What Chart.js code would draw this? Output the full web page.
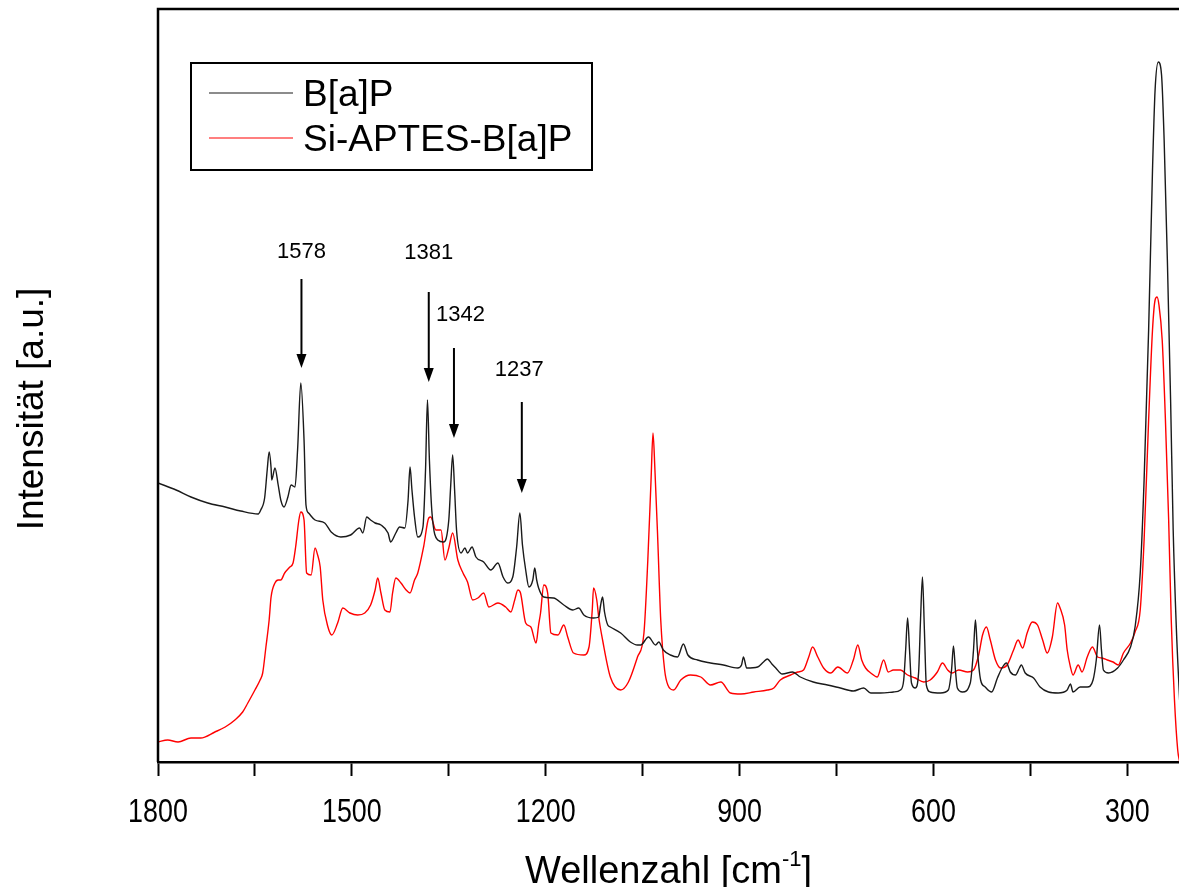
<!DOCTYPE html>
<html>
<head>
<meta charset="utf-8">
<title>Raman B[a]P</title>
<script src="https://cdn.jsdelivr.net/npm/chart.js@4.4.1/dist/chart.umd.min.js"></script>
<style>
  html, body { margin: 0; padding: 0; background: #fff; overflow: hidden; }
  canvas { display: block; }
</style>
</head>
<body>
<canvas id="spectrum" width="1179" height="887"></canvas>
<script>
// ---------------------------
// Data
// ---------------------------
const bapWave = [
  1800, 1772, 1749, 1723, 1696, 1672, 1645, 1641, 1635, 1631,
  1628, 1625, 1624, 1619, 1614, 1610, 1605, 1599, 1594, 1588,
  1584, 1579, 1574, 1571, 1567, 1557, 1542, 1532, 1517, 1502,
  1488, 1483, 1477, 1471, 1464, 1455, 1444, 1440, 1432, 1426,
  1418, 1413, 1410, 1407, 1403, 1398, 1390, 1386, 1383, 1380,
  1376, 1367, 1358, 1350, 1347, 1344, 1341, 1338, 1331, 1325,
  1321, 1314, 1308, 1296, 1285, 1274, 1266, 1259, 1251, 1245,
  1240, 1236, 1231, 1226, 1220, 1217, 1214, 1211, 1203, 1188,
  1172, 1158, 1149, 1141, 1126, 1118, 1115, 1112, 1109, 1104,
  1100, 1084, 1069, 1058, 1053, 1041, 1030, 1025, 1018, 1007,
  996, 987, 980, 965, 945, 925, 903, 897, 894, 889,
  872, 863, 857, 850, 844, 834, 818, 806, 786, 764,
  744, 724, 708, 697, 682, 662, 651, 646, 643, 640,
  637, 634, 628, 623, 620, 617, 614, 611, 605, 589,
  577, 572, 569, 566, 563, 555, 543, 538, 535, 532,
  527, 520, 510, 501, 493, 487, 481, 473, 467, 464,
  458, 445, 435, 422, 407, 393, 388, 384, 373, 362,
  353, 348, 343, 340, 337, 329, 315, 306, 295, 288,
  280, 274, 267, 261, 257, 252, 247, 243, 238, 233,
  229, 224, 219
];
const bapIntensity = [
  279, 272, 265, 259, 255, 251, 248, 252, 264, 292,
  310, 294, 282, 294, 277, 262, 255, 265, 277, 275,
  312, 379, 322, 257, 249, 242, 239, 230, 225, 227,
  234, 229, 245, 242, 239, 237, 229, 220, 229, 235,
  234, 262, 295, 272, 245, 225, 235, 292, 362, 302,
  249, 222, 220, 242, 277, 307, 272, 232, 209, 214,
  209, 215, 205, 200, 192, 199, 185, 179, 185, 215,
  249, 217, 192, 175, 182, 194, 182, 174, 165, 164,
  157, 152, 154, 147, 144, 145, 157, 165, 150, 137,
  135, 129, 120, 117, 117, 125, 117, 120, 112, 107,
  105, 118, 107, 102, 99, 97, 94, 97, 105, 94,
  95, 100, 103, 98, 94, 88, 90, 85, 80, 77,
  74, 71, 74, 69, 69, 70, 72, 82, 112, 144,
  112, 79, 74, 89, 142, 185, 132, 77, 70, 69,
  72, 92, 116, 92, 74, 70, 79, 112, 142, 112,
  82, 75, 70, 84, 95, 99, 90, 87, 94, 97,
  89, 84, 75, 70, 69, 72, 78, 70, 75, 75,
  82, 102, 137, 112, 92, 89, 94, 102, 115, 135,
  189, 282, 432, 592, 672, 700, 687, 622, 502, 362,
  232, 132, 62
];

const siWave = [
  1800, 1785, 1769, 1749, 1734, 1712, 1696, 1681, 1669, 1661,
  1650, 1642, 1638, 1633, 1628, 1625, 1619, 1614, 1610, 1604,
  1596, 1591, 1587, 1582, 1579, 1574, 1570, 1563, 1557, 1553,
  1549, 1545, 1537, 1531, 1522, 1514, 1503, 1491, 1480, 1471,
  1464, 1460, 1455, 1449, 1441, 1437, 1432, 1424, 1416, 1410,
  1403, 1398, 1389, 1381, 1378, 1370, 1362, 1356, 1350, 1344,
  1336, 1328, 1321, 1313, 1305, 1296, 1288, 1274, 1262, 1254,
  1248, 1243, 1239, 1231, 1223, 1215, 1211, 1208, 1203, 1197,
  1192, 1181, 1172, 1166, 1157, 1141, 1133, 1128, 1126, 1121,
  1118, 1112, 1100, 1084, 1072, 1058, 1048, 1042, 1037, 1034,
  1031, 1027, 1022, 1016, 1011, 1002, 991, 976, 960, 945,
  929, 914, 898, 878, 857, 847, 837, 821, 810, 801,
  793, 787, 779, 770, 759, 748, 733, 724, 717, 711,
  705, 697, 687, 677, 670, 662, 651, 640, 628, 615,
  605, 594, 586, 578, 571, 561, 547, 538, 530, 524,
  518, 512, 504, 496, 486, 476, 469, 462, 455, 447,
  439, 431, 424, 416, 408, 404, 397, 393, 388, 384,
  376, 370, 362, 354, 346, 339, 331, 322, 314, 306,
  295, 288, 280, 274, 267, 261, 257, 254, 251, 246,
  241, 236, 232, 227, 222, 219
];
const siIntensity = [
  20, 22, 20, 24, 24, 30, 35, 42, 50, 59,
  72, 82, 89, 115, 142, 165, 179, 182, 182, 189,
  195, 199, 215, 242, 250, 242, 189, 187, 214, 207,
  195, 162, 135, 127, 139, 154, 149, 147, 149, 157,
  172, 184, 169, 152, 150, 169, 184, 179, 172, 169,
  182, 189, 215, 244, 245, 232, 232, 202, 214, 229,
  202, 189, 180, 162, 164, 169, 155, 159, 155, 150,
  162, 172, 169, 139, 135, 119, 137, 149, 177, 169,
  129, 127, 137, 125, 109, 107, 115, 152, 174, 162,
  145, 122, 85, 72, 80, 105, 129, 202, 282, 329,
  292, 229, 142, 92, 77, 72, 82, 87, 85, 77,
  80, 69, 68, 70, 72, 74, 82, 87, 90, 92,
  105, 115, 105, 94, 89, 95, 89, 102, 117, 102,
  94, 89, 85, 102, 90, 92, 92, 87, 84, 80,
  82, 90, 99, 92, 89, 92, 90, 92, 107, 127,
  135, 122, 102, 94, 97, 112, 122, 114, 129, 140,
  137, 122, 109, 125, 159, 154, 137, 112, 95, 87,
  97, 90, 105, 115, 105, 104, 102, 100, 97, 109,
  119, 130, 152, 222, 342, 432, 462, 465, 457, 422,
  342, 242, 142, 62, 12, 0
];

const seriesNames = ['B[a]P', 'Si-APTES-B[a]P'];
const seriesColors = ['#1a1a1a', '#ff0000'];

const tickValues = [1800, 1650, 1500, 1350, 1200, 1050, 900, 750, 600, 450, 300];
const tickLabels = ['1800', '', '1500', '', '1200', '', '900', '', '600', '', '300'];

// peak markers (wavenumber / intensity units)
const peakLabels = ['1578', '1381', '1342', '1237'];
const peakWave = [1578, 1381, 1342, 1237];
const arrowTail = [483, 470, 414, 360];
const arrowTip = [394, 380, 324, 269];
const labelWave = [1578, 1381, 1332, 1241];
const labelLevel = [510, 509, 447, 392];

const FONT = '"Liberation Sans", Arial, Helvetica, sans-serif';

function toPoints(xs, ys) {
    return xs.map((v, i) => ({ x: v, y: ys[i] }));
}

// ---------------------------
// Plugins: frame, peaks, legend, titles, tick labels
// ---------------------------
const framePlugin = {
    id: 'frame',
    afterDatasetsDraw(chart) {
        const { ctx, chartArea: a } = chart;
        ctx.save();
        ctx.strokeStyle = '#000';
        ctx.lineWidth = 2.5;
        ctx.beginPath();
        ctx.moveTo(a.left, a.bottom);
        ctx.lineTo(a.left, a.top);
        ctx.lineTo(a.right + 5, a.top);
        ctx.stroke();
        ctx.restore();
    }
};

const peakPlugin = {
    id: 'peaks',
    afterDatasetsDraw(chart) {
        const { ctx, scales: { x, y } } = chart;
        ctx.save();
        ctx.fillStyle = '#000';
        ctx.strokeStyle = '#000';
        ctx.lineWidth = 2;
        ctx.font = '22px ' + FONT;
        ctx.textAlign = 'center';
        ctx.textBaseline = 'middle';
        peakLabels.forEach((lab, i) => {
            const px = x.getPixelForValue(peakWave[i]);
            const top = y.getPixelForValue(arrowTail[i]);
            const tip = y.getPixelForValue(arrowTip[i]);
            ctx.beginPath();
            ctx.moveTo(px, top);
            ctx.lineTo(px, tip - 10);
            ctx.stroke();
            ctx.beginPath();
            ctx.moveTo(px - 5, tip - 14);
            ctx.lineTo(px + 5, tip - 14);
            ctx.lineTo(px, tip);
            ctx.closePath();
            ctx.fill();
            ctx.fillText(lab, x.getPixelForValue(labelWave[i]), y.getPixelForValue(labelLevel[i]));
        });
        ctx.restore();
    }
};

const legendPlugin = {
    id: 'boxLegend',
    afterDraw(chart) {
        const ctx = chart.ctx;
        ctx.save();
        ctx.fillStyle = '#fff';
        ctx.fillRect(191, 63, 401, 107);
        ctx.strokeStyle = '#000';
        ctx.lineWidth = 2;
        ctx.strokeRect(191, 63, 401, 107);
        ctx.font = '37px ' + FONT;
        ctx.textAlign = 'left';
        ctx.textBaseline = 'alphabetic';
        chart.data.datasets.forEach((ds, i) => {
            const cy = 93 + i * 45;
            ctx.strokeStyle = ds.borderColor;
            ctx.lineWidth = 1.2;
            ctx.beginPath();
            ctx.moveTo(209, cy);
            ctx.lineTo(293, cy);
            ctx.stroke();
            ctx.fillStyle = '#000';
            ctx.fillText(ds.label, 303, cy + 13);
        });
        ctx.restore();
    }
};

// narrow-looking tick labels (horizontally squeezed)
const tickLabelPlugin = {
    id: 'tickText',
    afterDraw(chart) {
        const { ctx, scales: { x } } = chart;
        const squeeze = 0.79;
        ctx.save();
        ctx.fillStyle = '#000';
        ctx.font = '34px ' + FONT;
        ctx.textAlign = 'center';
        ctx.textBaseline = 'alphabetic';
        tickValues.forEach((v, i) => {
            if (!tickLabels[i]) return;
            const px = x.getPixelForValue(v);
            ctx.save();
            ctx.translate(px, 822);
            ctx.scale(squeeze, 1);
            ctx.fillText(tickLabels[i], 0, 0);
            ctx.restore();
        });
        ctx.restore();
    }
};

const titlePlugin = {
    id: 'axisTitles',
    afterDraw(chart) {
        const { ctx, chartArea: a } = chart;
        ctx.save();
        ctx.fillStyle = '#000';
        // y title
        ctx.font = '37px ' + FONT;
        ctx.textAlign = 'center';
        ctx.textBaseline = 'alphabetic';
        ctx.translate(43, 409);
        ctx.rotate(-Math.PI / 2);
        ctx.fillText('Intensität [a.u.]', 0, 0);
        ctx.restore();

        // x title with superscript
        ctx.save();
        ctx.fillStyle = '#000';
        ctx.textAlign = 'left';
        ctx.textBaseline = 'alphabetic';
        const main = '38px ' + FONT, sup = '22px ' + FONT;
        const p1 = 'Wellenzahl [cm', p2 = '-1', p3 = ']';
        ctx.font = main; const w1 = ctx.measureText(p1).width; const w3 = ctx.measureText(p3).width;
        ctx.font = sup; const w2 = ctx.measureText(p2).width;
        const cx = (a.left + a.right) / 2;
        let sx = cx - (w1 + w2 + w3) / 2;
        const base = 883;
        ctx.font = main; ctx.fillText(p1, sx, base); sx += w1;
        ctx.font = sup; ctx.fillText(p2, sx, base - 17); sx += w2;
        ctx.font = main; ctx.fillText(p3, sx, base);
        ctx.restore();
    }
};

// ---------------------------
// Chart
// ---------------------------
const ctx = document.getElementById('spectrum').getContext('2d');
window.spectrumChart = new Chart(ctx, {
    type: 'line',
    data: {
        datasets: [
            {
                label: seriesNames[0],
                data: toPoints(bapWave, bapIntensity),
                borderColor: seriesColors[0],
                borderWidth: 1.4,
                pointRadius: 0,
                cubicInterpolationMode: 'monotone',
                fill: false
            },
            {
                label: seriesNames[1],
                data: toPoints(siWave, siIntensity),
                borderColor: seriesColors[1],
                borderWidth: 1.4,
                pointRadius: 0,
                cubicInterpolationMode: 'monotone',
                fill: false
            }
        ]
    },
    options: {
        responsive: false,
        animation: false,
        devicePixelRatio: 1,
        layout: { padding: { left: 158, top: 9, right: 0, bottom: 0 } },
        plugins: {
            legend: { display: false },
            tooltip: { enabled: false }
        },
        scales: {
            x: {
                type: 'linear',
                reverse: true,
                min: 220,
                max: 1800,
                afterBuildTicks: s => { s.ticks = tickValues.map(v => ({ value: v })); },
                afterFit: s => { s.height = 125; },
                ticks: {
                    display: false,
                    autoSkip: false,
                    maxRotation: 0,
                    callback: (v, i) => tickLabels[i]
                },
                grid: { drawOnChartArea: false, drawTicks: true, tickLength: 14, tickWidth: 2, tickColor: '#000' },
                border: { display: true, color: '#000', width: 2.5 }
            },
            y: {
                display: false,
                min: 0,
                max: 753
            }
        }
    },
    plugins: [framePlugin, peakPlugin, legendPlugin, tickLabelPlugin, titlePlugin]
});
</script>
</body>
</html>
